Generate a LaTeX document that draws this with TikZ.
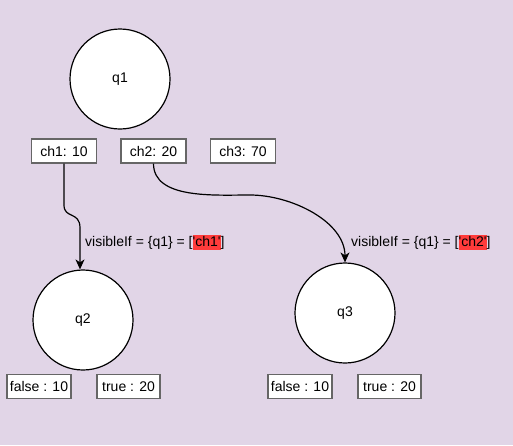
\documentclass[tikz,border=0pt]{standalone}
\usepackage{fontspec}
\setmainfont{Liberation Sans}[Ligatures=TeXOff]
\usetikzlibrary{arrows.meta}
\definecolor{bgpurple}{HTML}{E1D5E7}
\definecolor{boxgray}{HTML}{666666}
\definecolor{hlred}{HTML}{FF3B3B}
\newcommand\hlmark[1]{{\setlength\fboxsep{0pt}\colorbox{hlred}{\rule[-3.5pt]{0pt}{15pt}#1}}}
\begin{document}
\begin{tikzpicture}[x=1pt,y=-1pt,
  every node/.style={font=\fontsize{14}{16.8}\selectfont, inner sep=0pt},
  qcircle/.style={circle, draw=black, fill=white, line width=1.2pt, minimum size=100pt},
  valbox/.style={rectangle, draw=boxgray, fill=white, line width=1.2pt, minimum width=65pt, minimum height=24pt},
  arr/.style={draw=black, line width=1.2pt, -{Stealth[length=10pt,width=9pt,inset=3pt]}},
  lbl/.style={anchor=west}]
\fill[bgpurple] (0,0) rectangle (513,445);
\useasboundingbox (0,0) rectangle (513,445);
\node[qcircle] (q1) at (120,79) {q1};
\node[qcircle] (q2) at (83,320) {q2};
\node[qcircle] (q3) at (345,313) {q3};
\node[valbox] (ch1) at (64,151) {ch1: 10};
\node[valbox] (ch2) at (153.5,151) {ch2: 20};
\node[valbox] (ch3) at (243,151) {ch3: 70};
\node[valbox, minimum width=64pt] (f2) at (39,386.5) {false : 10};
\node[valbox, minimum width=63pt] (t2) at (128.5,386.5) {true : 20};
\node[valbox, minimum width=64pt] (f3) at (300,386.5) {false : 10};
\node[valbox, minimum width=63pt] (t3) at (389.5,386.5) {true : 20};
\coordinate (e1) at (q2.north -| 80,0);
\draw[arr] (ch1.south) -- (64,205) .. controls (64,219) and (80,211) .. (80,228) -- (e1);
\draw[arr] (ch2.south) to[out=-90,in=180,looseness=0.9] (250,195) to[out=0,in=90,looseness=0.9] (q3.north);
\node[lbl] (l1) at (85,242) {visibleIf = \{q1\} = [\hlmark{'ch1'}]};
\node[lbl] (l2) at (351,242) {visibleIf = \{q1\} = [\hlmark{'ch2'}]};
\end{tikzpicture}
\end{document}
